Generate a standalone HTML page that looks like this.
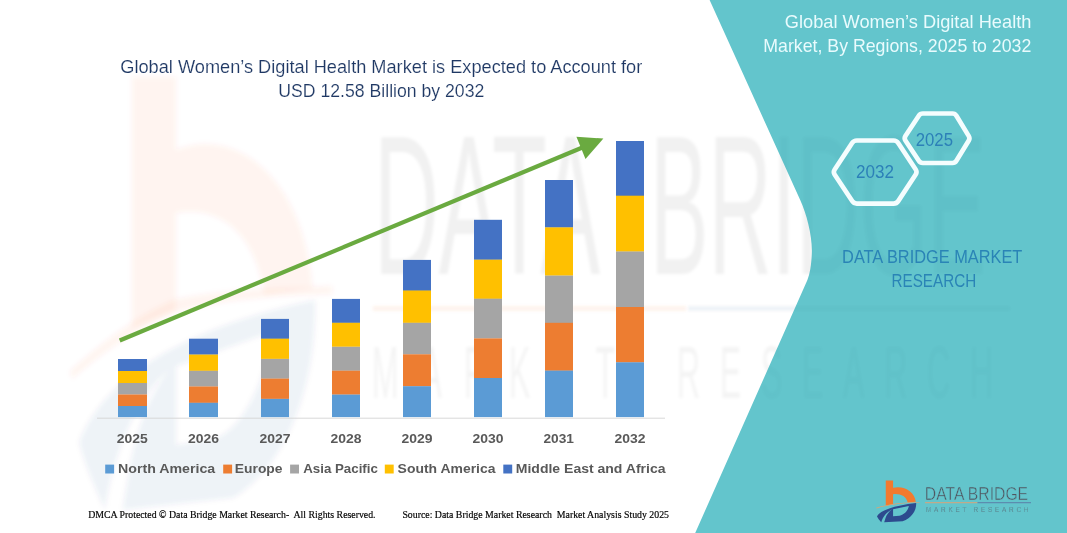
<!DOCTYPE html>
<html>
<head>
<meta charset="utf-8">
<title>Global Women's Digital Health Market</title>
<style>
  html, body { margin: 0; padding: 0; background: #ffffff; }
  body { width: 1067px; height: 533px; overflow: hidden; position: relative;
         font-family: "Liberation Sans", sans-serif; }
  svg { position: absolute; left: 0; top: 0; display: block; }
  text { font-family: "Liberation Sans", sans-serif; }
  .serif { font-family: "Liberation Serif", serif; }
</style>
</head>
<body>
<svg width="1067" height="533" viewBox="0 0 1067 533">
  <defs>
    <!-- logo mark drawn in a 533x533 design box -->
    <path id="mark-b" d="M140,75 L205,75 L205,140 C300,118 395,170 407,264 L335,270 C322,215 270,190 205,197 L205,284 L140,300 Z"/>
    <path id="mark-swoosh" d="M55,318 C150,285 300,268 440,266 L440,272 C300,276 160,292 58,324 Z"/>
    <g id="mark-blue">
      <path d="M62,392 C95,343 205,300 410,276 C414,340 372,410 290,437 L126,447 L138,408 C148,380 166,353 194,333 C150,354 114,396 100,447 C85,428 70,410 62,392 Z M205,330 L345,302 C338,345 300,382 262,389 L205,394 Z" fill-rule="evenodd"/>
    </g>
    <filter id="soft" x="-5%" y="-5%" width="110%" height="110%"><feGaussianBlur stdDeviation="1.6"/></filter>
    <filter id="softer" x="-5%" y="-5%" width="110%" height="110%"><feGaussianBlur stdDeviation="2.2"/></filter>
    <clipPath id="tealclip">
      <path id="tealshape" d="M709.6,0 L800.2,200 C807,215 812.6,237 811.8,254 C811.4,265 809.8,274 807.4,280 L695.2,533 L1067,533 L1067,0 Z"/>
    </clipPath>
  </defs>

  <!-- ===== background watermark (white side) ===== -->
  <g id="wm-left" filter="url(#soft)">
    <g filter="url(#softer)">
    <g transform="translate(37.2,-6.7) scale(0.677,1.1156)">
      <use href="#mark-b" fill="#ff5a1f" opacity="0.06"/>
    </g>
    <path d="M70,371 C110,335 150,308 176,299 C220,290 270,288 332,286 L332,294 C270,296 225,300 180,311 C150,321 110,346 72,379 Z" fill="#ff5a1f" opacity="0.06"/>
    <g transform="translate(37.2,-38.9) scale(0.677,1.228)">
      <use href="#mark-blue" fill="#2b4a8c" opacity="0.065"/>
    </g>
    </g>
    <g fill="#000" opacity="0.055">
      <text x="0" y="0" font-size="100" textLength="226" lengthAdjust="spacingAndGlyphs" transform="translate(374,274) scale(1,1.99)">DATA</text>
      <text x="0" y="0" font-size="100" textLength="336" lengthAdjust="spacingAndGlyphs" transform="translate(650,274) scale(1,1.99)">BRIDGE</text>
      <text x="0" y="0" font-size="32" textLength="243" lengthAdjust="spacing" transform="translate(372,398.3) scale(1,2.29)" opacity="0.75">MARKET</text>
      <text x="0" y="0" font-size="32" textLength="316" lengthAdjust="spacing" transform="translate(677,398.3) scale(1,2.29)" opacity="0.75">RESEARCH</text>
    </g>
    <rect x="373" y="306.5" width="313" height="4" fill="#f07a2c" opacity="0.10"/>
    <rect x="688" y="306.5" width="322" height="4" fill="#2b4a8c" opacity="0.08"/>
  </g>

  <!-- ===== teal panel ===== -->
  <use href="#tealshape" fill="#63c5cc"/>
  <g clip-path="url(#tealclip)" fill="#0b5560" opacity="0.035" filter="url(#soft)">
    <text x="0" y="0" font-size="100" textLength="336" lengthAdjust="spacingAndGlyphs" transform="translate(650,274) scale(1,1.99)">BRIDGE</text>
    <text x="0" y="0" font-size="32" textLength="316" lengthAdjust="spacing" transform="translate(677,398.3) scale(1,2.29)" opacity="0.75">RESEARCH</text>
    <rect x="688" y="306.5" width="322" height="4"/>
  </g>

  <!-- ===== chart ===== -->
  <line x1="97" y1="418.2" x2="665" y2="418.2" stroke="#d4d4d4" stroke-width="0.9"/>
  <g id="bars">
    <!-- 2025 -->
    <rect x="118" y="359" width="29" height="12" fill="#4472c4"/>
    <rect x="118" y="371" width="29" height="12" fill="#ffc000"/>
    <rect x="118" y="383" width="29" height="11.5" fill="#a5a5a5"/>
    <rect x="118" y="394.5" width="29" height="11.5" fill="#ed7d31"/>
    <rect x="118" y="406" width="29" height="11.1" fill="#5b9bd5"/>
    <!-- 2026 -->
    <rect x="189" y="338.7" width="29" height="16" fill="#4472c4"/>
    <rect x="189" y="354.6" width="29" height="16.3" fill="#ffc000"/>
    <rect x="189" y="370.8" width="29" height="15.8" fill="#a5a5a5"/>
    <rect x="189" y="386.5" width="29" height="16.4" fill="#ed7d31"/>
    <rect x="189" y="402.8" width="29" height="14.3" fill="#5b9bd5"/>
    <!-- 2027 -->
    <rect x="261" y="318.9" width="28" height="20" fill="#4472c4"/>
    <rect x="261" y="338.7" width="28" height="20.2" fill="#ffc000"/>
    <rect x="261" y="358.9" width="28" height="19.8" fill="#a5a5a5"/>
    <rect x="261" y="378.6" width="28" height="20.3" fill="#ed7d31"/>
    <rect x="261" y="398.9" width="28" height="18.2" fill="#5b9bd5"/>
    <!-- 2028 -->
    <rect x="332" y="298.9" width="28" height="24" fill="#4472c4"/>
    <rect x="332" y="322.8" width="28" height="24" fill="#ffc000"/>
    <rect x="332" y="346.8" width="28" height="24" fill="#a5a5a5"/>
    <rect x="332" y="370.7" width="28" height="24" fill="#ed7d31"/>
    <rect x="332" y="394.6" width="28" height="22.5" fill="#5b9bd5"/>
    <!-- 2029 -->
    <rect x="403" y="259.9" width="28" height="31" fill="#4472c4"/>
    <rect x="403" y="290.5" width="28" height="32.4" fill="#ffc000"/>
    <rect x="403" y="322.8" width="28" height="31.6" fill="#a5a5a5"/>
    <rect x="403" y="354.3" width="28" height="32" fill="#ed7d31"/>
    <rect x="403" y="386.2" width="28" height="30.9" fill="#5b9bd5"/>
    <!-- 2030 -->
    <rect x="474" y="219.8" width="28" height="40" fill="#4472c4"/>
    <rect x="474" y="259.7" width="28" height="39.2" fill="#ffc000"/>
    <rect x="474" y="298.7" width="28" height="39.8" fill="#a5a5a5"/>
    <rect x="474" y="338.4" width="28" height="39.7" fill="#ed7d31"/>
    <rect x="474" y="378" width="28" height="39.1" fill="#5b9bd5"/>
    <!-- 2031 -->
    <rect x="545" y="180" width="28" height="47.6" fill="#4472c4"/>
    <rect x="545" y="227.4" width="28" height="48.3" fill="#ffc000"/>
    <rect x="545" y="275.6" width="28" height="47.4" fill="#a5a5a5"/>
    <rect x="545" y="322.8" width="28" height="48" fill="#ed7d31"/>
    <rect x="545" y="370.6" width="28" height="46.5" fill="#5b9bd5"/>
    <!-- 2032 -->
    <rect x="616" y="141" width="28" height="55" fill="#4472c4"/>
    <rect x="616" y="195.7" width="28" height="56" fill="#ffc000"/>
    <rect x="616" y="251.5" width="28" height="55.7" fill="#a5a5a5"/>
    <rect x="616" y="307" width="28" height="55.5" fill="#ed7d31"/>
    <rect x="616" y="362.3" width="28" height="54.8" fill="#5b9bd5"/>
  </g>

  <!-- trend arrow -->
  <g id="arrow">
    <line x1="119.7" y1="340.5" x2="583" y2="147.2" stroke="#6aaa40" stroke-width="4.2"/>
    <polygon points="603.4,138.6 576.4,136.7 585.5,159.1" fill="#6aaa40"/>
  </g>

  <!-- ===== main title ===== -->
  <g fill="#1f3864" stroke="#ffffff" stroke-width="0.15" font-size="17.6">
    <text x="120.3" y="73.3" textLength="522" lengthAdjust="spacingAndGlyphs">Global Women’s Digital Health Market is Expected to Account for</text>
    <text x="278.3" y="96.8" textLength="206" lengthAdjust="spacingAndGlyphs">USD 12.58 Billion by 2032</text>
  </g>

  <!-- ===== year labels ===== -->
  <g fill="#595959" font-weight="bold" font-size="12.8" text-anchor="middle">
    <text x="132.3" y="443" textLength="31" lengthAdjust="spacingAndGlyphs">2025</text>
    <text x="203.5" y="443" textLength="31" lengthAdjust="spacingAndGlyphs">2026</text>
    <text x="275" y="443" textLength="31" lengthAdjust="spacingAndGlyphs">2027</text>
    <text x="346" y="443" textLength="31" lengthAdjust="spacingAndGlyphs">2028</text>
    <text x="417" y="443" textLength="31" lengthAdjust="spacingAndGlyphs">2029</text>
    <text x="488" y="443" textLength="31" lengthAdjust="spacingAndGlyphs">2030</text>
    <text x="558.7" y="443" textLength="30.5" lengthAdjust="spacingAndGlyphs">2031</text>
    <text x="630" y="443" textLength="31" lengthAdjust="spacingAndGlyphs">2032</text>
  </g>

  <!-- ===== legend ===== -->
  <g id="legend">
    <rect x="105.2" y="464.6" width="8.9" height="8.9" fill="#5b9bd5"/>
    <rect x="223.2" y="464.6" width="8.9" height="8.9" fill="#ed7d31"/>
    <rect x="290.1" y="464.6" width="8.9" height="8.9" fill="#a5a5a5"/>
    <rect x="384.8" y="464.6" width="8.9" height="8.9" fill="#ffc000"/>
    <rect x="503.3" y="464.6" width="8.9" height="8.9" fill="#4472c4"/>
    <g fill="#595959" font-weight="bold" font-size="13.7">
      <text x="118" y="472.9" textLength="97.2" lengthAdjust="spacingAndGlyphs">North America</text>
      <text x="234.8" y="472.9" textLength="47.7" lengthAdjust="spacingAndGlyphs">Europe</text>
      <text x="303.2" y="472.9" textLength="74.7" lengthAdjust="spacingAndGlyphs">Asia Pacific</text>
      <text x="397.6" y="472.9" textLength="97.9" lengthAdjust="spacingAndGlyphs">South America</text>
      <text x="515.8" y="472.9" textLength="149.7" lengthAdjust="spacingAndGlyphs">Middle East and Africa</text>
    </g>
  </g>

  <!-- ===== footer ===== -->
  <g class="serif" fill="#000000" stroke="#000000" stroke-width="0.18" font-size="10.2" style="font-family:'Liberation Serif',serif">
    <text x="88.2" y="518.2" textLength="287.4" lengthAdjust="spacingAndGlyphs" xml:space="preserve" style="font-family:'Liberation Serif',serif">DMCA Protected © Data Bridge Market Research-  All Rights Reserved.</text>
    <text x="402.4" y="518.2" textLength="266.6" lengthAdjust="spacingAndGlyphs" xml:space="preserve" style="font-family:'Liberation Serif',serif">Source: Data Bridge Market Research  Market Analysis Study 2025</text>
  </g>

  <!-- ===== right panel text ===== -->
  <g fill="#e9fbfd" font-size="18.2">
    <text x="784.8" y="28.1" textLength="246.6" lengthAdjust="spacingAndGlyphs">Global Women’s Digital Health</text>
    <text x="763.3" y="52.2" textLength="268" lengthAdjust="spacingAndGlyphs">Market, By Regions, 2025 to 2032</text>
  </g>

  <!-- hexagons -->
  <g fill="none" stroke="#f4fdfe" stroke-width="4.7" stroke-linejoin="round">
    <path d="M834.6,174.5 Q833.0,172.0 834.7,169.5 L852.1,143.0 Q853.8,140.5 856.8,140.5 L893.6,140.5 Q896.6,140.5 898.2,143.0 L915.7,169.5 Q917.3,172.0 915.7,174.5 L898.2,201.1 Q896.6,203.6 893.6,203.6 L856.8,203.6 Q853.8,203.6 852.2,201.1 Z"/>
    <path d="M905.4,140.5 Q904.0,138.3 905.4,136.1 L918.8,115.7 Q920.2,113.5 922.8,113.5 L952.5,113.5 Q955.1,113.5 956.4,115.7 L968.8,136.1 Q970.1,138.3 968.8,140.5 L956.4,160.8 Q955.1,163.0 952.5,163.0 L922.8,163.0 Q920.2,163.0 918.8,160.8 Z"/>
  </g>
  <g fill="#2c80b8" font-size="18">
    <text x="856" y="177.7" textLength="38" lengthAdjust="spacingAndGlyphs">2032</text>
    <text x="915.7" y="145.7" textLength="37.3" lengthAdjust="spacingAndGlyphs">2025</text>
  </g>

  <g fill="#2a84b6" font-size="17.5">
    <text x="842.1" y="263" textLength="180.2" lengthAdjust="spacingAndGlyphs">DATA BRIDGE MARKET</text>
    <text x="891.5" y="286.7" textLength="84.7" lengthAdjust="spacingAndGlyphs">RESEARCH</text>
  </g>

  <!-- ===== logo bottom right ===== -->
  <g id="logo">
    <g transform="translate(870,472) scale(0.11257)">
      <use href="#mark-b" fill="#f37a2e"/>
      <use href="#mark-swoosh" fill="#e8a06a"/>
      <use href="#mark-blue" fill="#2d4b8e"/>
    </g>
    <text x="924.8" y="499.9" font-size="18" fill="#50555f" stroke="#62c4cc" stroke-width="0.45" textLength="103.3" lengthAdjust="spacingAndGlyphs">DATA BRIDGE</text>
    <rect x="925" y="502.2" width="52.5" height="1" fill="#d9a37a"/>
    <rect x="977.5" y="502.2" width="53.5" height="1" fill="#5b7fa8"/>
    <text x="925.9" y="511.9" font-size="6.4" fill="#56606a" stroke="#62c4cc" stroke-width="0.25" textLength="102.5" lengthAdjust="spacing">MARKET RESEARCH</text>
  </g>
</svg>
</body>
</html>
